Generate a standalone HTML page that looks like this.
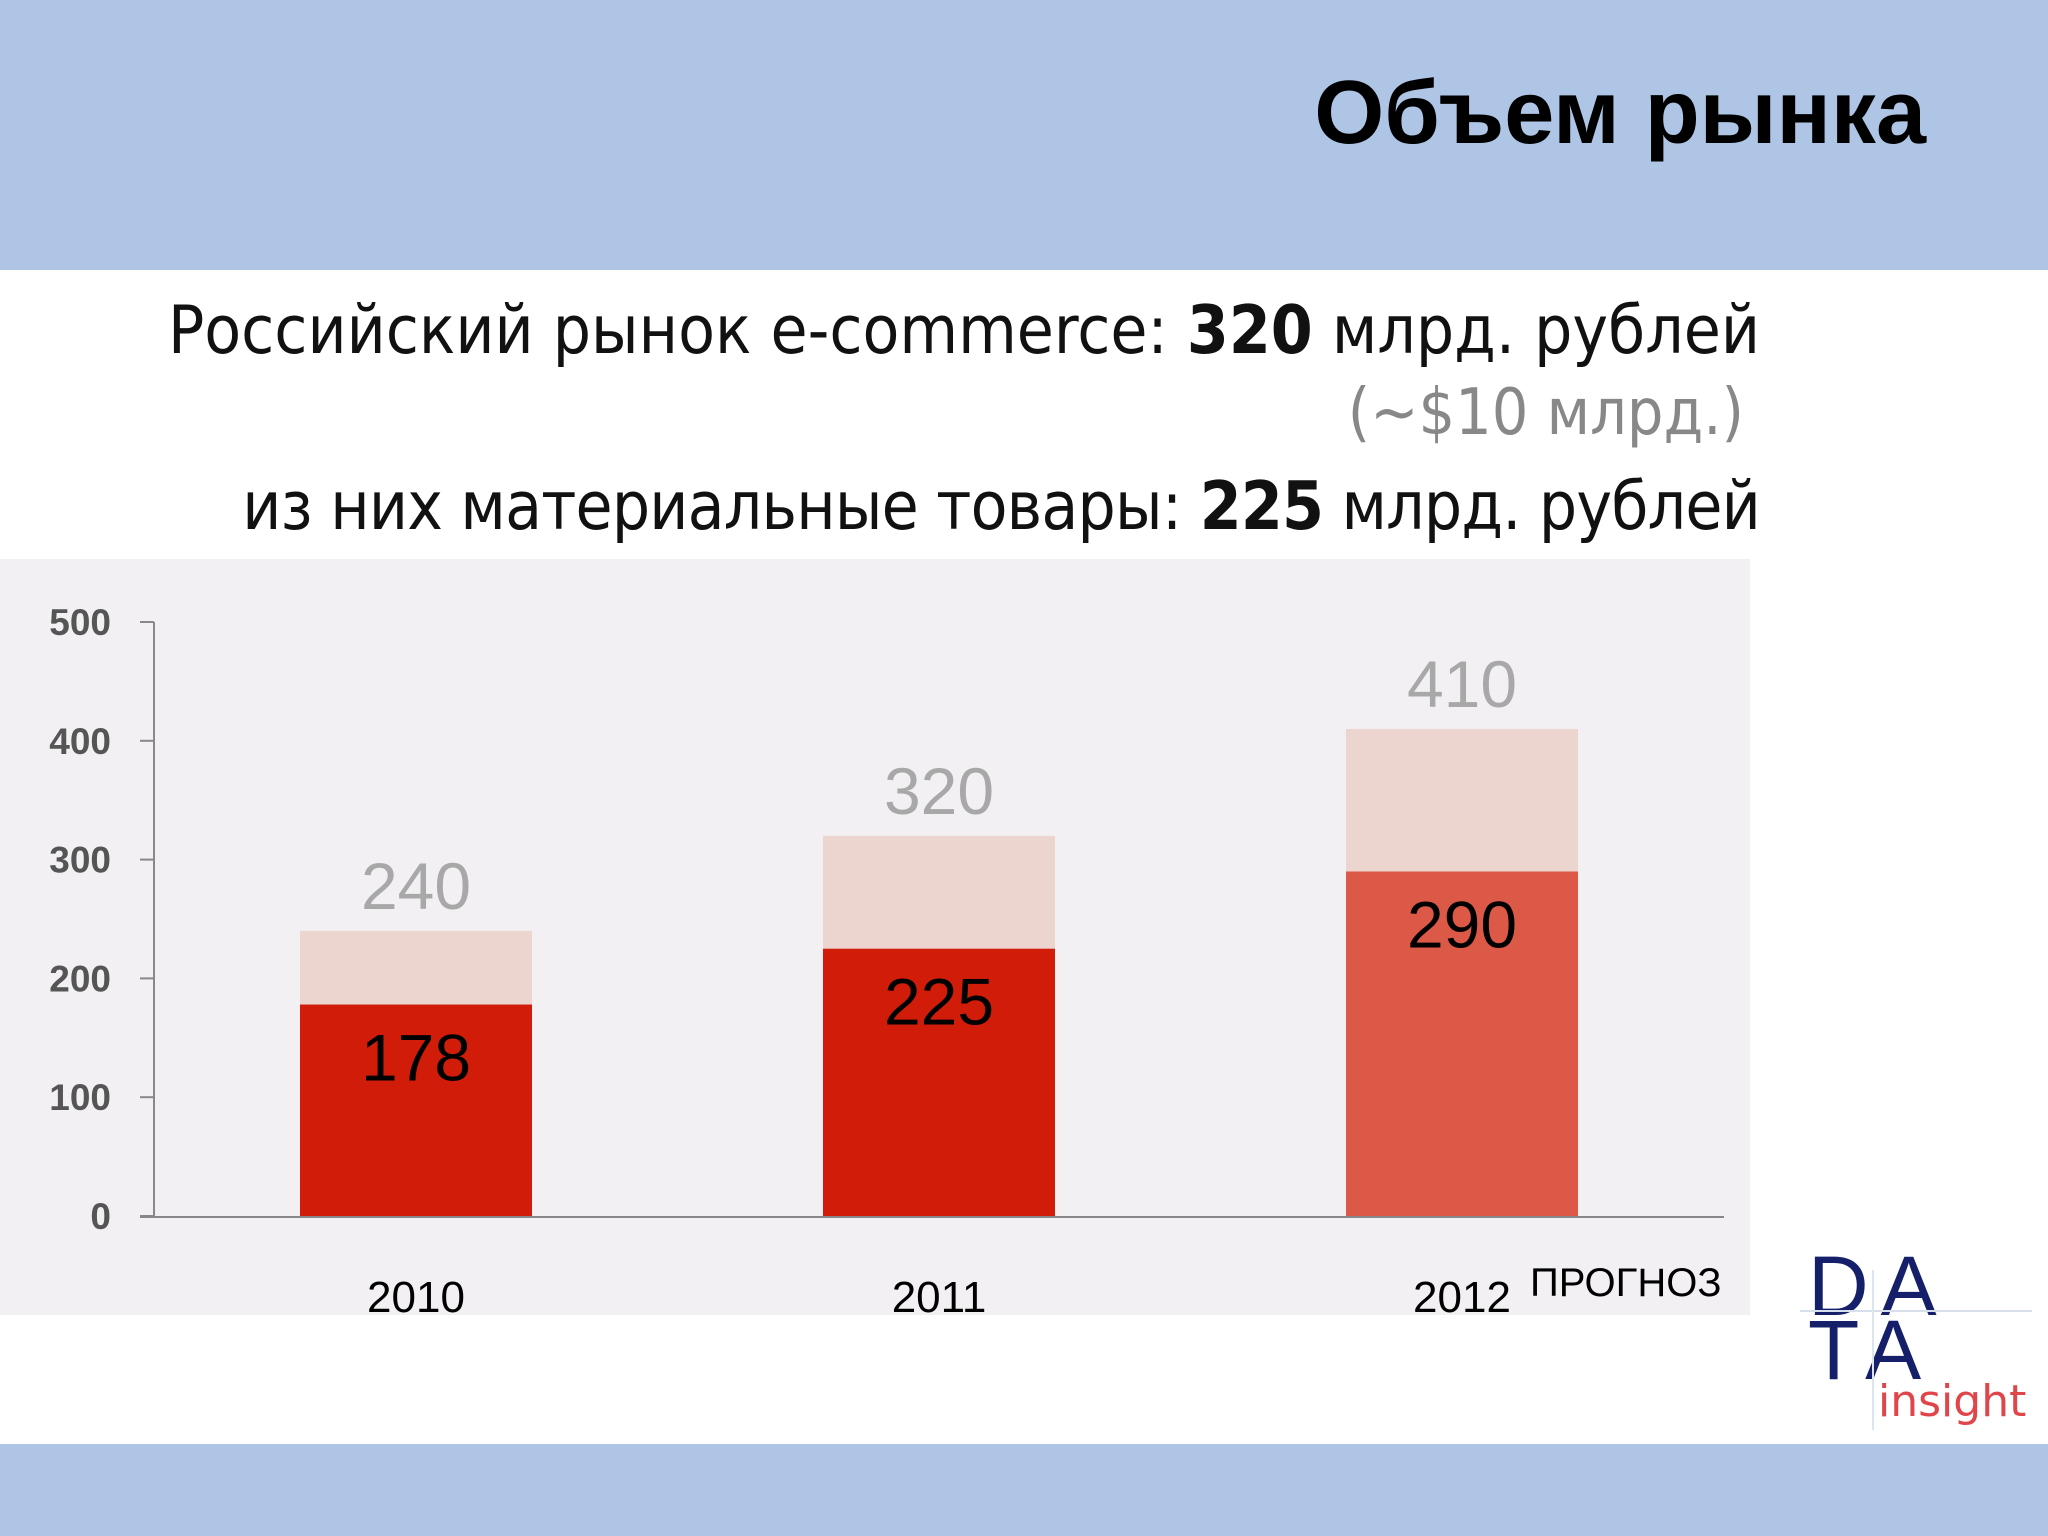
<!DOCTYPE html>
<html><head><meta charset="utf-8"><style>
body{margin:0;width:2048px;height:1536px;position:relative;background:#fff;overflow:hidden;font-family:"Liberation Sans","DejaVu Sans",sans-serif}
.abs{position:absolute}
</style></head><body>
<div class="abs" style="left:0;top:0;width:2048px;height:270px;background:#afc5e5"></div>
<div class="abs" style="right:122px;top:62px;font-size:90px;font-weight:bold;color:#000;white-space:nowrap">Объем рынка</div>
<div class="abs" style="right:288px;top:291px;font-size:67px;color:#111;white-space:nowrap;font-family:'DejaVu Sans Condensed','DejaVu Sans',sans-serif">Российский рынок e-commerce: <b>320</b> млрд. рублей</div>
<div class="abs" style="right:304px;top:376px;font-size:64px;color:#888;white-space:nowrap;font-family:'DejaVu Sans Condensed','DejaVu Sans',sans-serif">(~$10 млрд.)</div>
<div class="abs" style="right:288px;top:467px;font-size:67px;letter-spacing:-0.8px;color:#111;white-space:nowrap;font-family:'DejaVu Sans Condensed','DejaVu Sans',sans-serif">из них материальные товары: <b>225</b> млрд. рублей</div>
<svg class="abs" style="left:0;top:0" width="2048" height="1536">
<rect x="0" y="559" width="1750" height="756" fill="#f2f0f3"/>
<g id="g"></g>
</svg>
<div class="abs" style="left:0;top:1444px;width:2048px;height:92px;background:#afc5e5"></div>
<div class="abs" style="left:1800px;top:1240px;width:240px;height:190px">
<div class="abs" style="left:8px;top:4px;font-size:84px;color:#16206a;letter-spacing:12px;line-height:1">DA</div>
<div class="abs" style="left:8px;top:68px;font-size:84px;color:#16206a;letter-spacing:12px;line-height:1">TA</div>
<div class="abs" style="left:0;top:70px;width:232px;height:2px;background:#d7e0ea"></div>
<div class="abs" style="left:72px;top:30px;width:2px;height:160px;background:#dbe5ee"></div>
<div class="abs" style="left:78px;top:136px;font-size:44px;color:#e0454a;font-family:'DejaVu Sans',sans-serif">insight</div>
</div>
<script>
const years=["2010","2011","2012"];
const totals=[240,320,410];
const goods=[178,225,290];
const ticks=[0,100,200,300,400,500];
const NS="http://www.w3.org/2000/svg";
const g=document.getElementById('g');
const y=v=>1216-v*(1216-622)/500;
const xc=i=>416+i*523;
const bw=232;
function mk(t,a){const e=document.createElementNS(NS,t);for(const k in a)e.setAttribute(k,a[k]);g.appendChild(e);return e;}
ticks.forEach(t=>{
 const l=mk('line',{x1:140,x2:154,y1:y(t),y2:y(t),stroke:'#888','stroke-width':2});
 
 
 const tx=mk('text',{x:111,y:y(t)+13,'text-anchor':'end','font-size':37,'font-weight':'bold',fill:'#555'});
 tx.textContent=t;
 
 
});
years.forEach((yr,i)=>{
 const x=xc(i)-bw/2;
 const r1=mk('rect',{x:x,y:y(totals[i]),width:bw,height:y(goods[i])-y(totals[i]),fill:'#ecd4cf'});
 
 
 const r2=mk('rect',{x:x,y:y(goods[i]),width:bw,height:y(0)-y(goods[i]),fill:i==2?'#dc5948':'#d01c08'});
 
 
 const t1=mk('text',{x:xc(i),y:y(totals[i])-22,'text-anchor':'middle','font-size':66,fill:'#a8a8a8'});
 t1.textContent=totals[i];
 
 
 const t2=mk('text',{x:xc(i),y:y(goods[i])+76,'text-anchor':'middle','font-size':66,fill:'#000'});
 t2.textContent=goods[i];
 
 
 const t3=mk('text',{x:xc(i),y:1312,'text-anchor':'middle','font-size':44,fill:'#000'});
 t3.textContent=yr;
 
 
});
const ax=mk('line',{x1:154,x2:154,y1:622,y2:1216,stroke:'#888','stroke-width':2});


const bx=mk('line',{x1:140,x2:1724,y1:1217,y2:1217,stroke:'#888','stroke-width':2});


const fc=mk('text',{x:1530,y:1296,'font-size':40,fill:'#000'});
fc.textContent='ПРОГНОЗ';


</script>
</body></html>
